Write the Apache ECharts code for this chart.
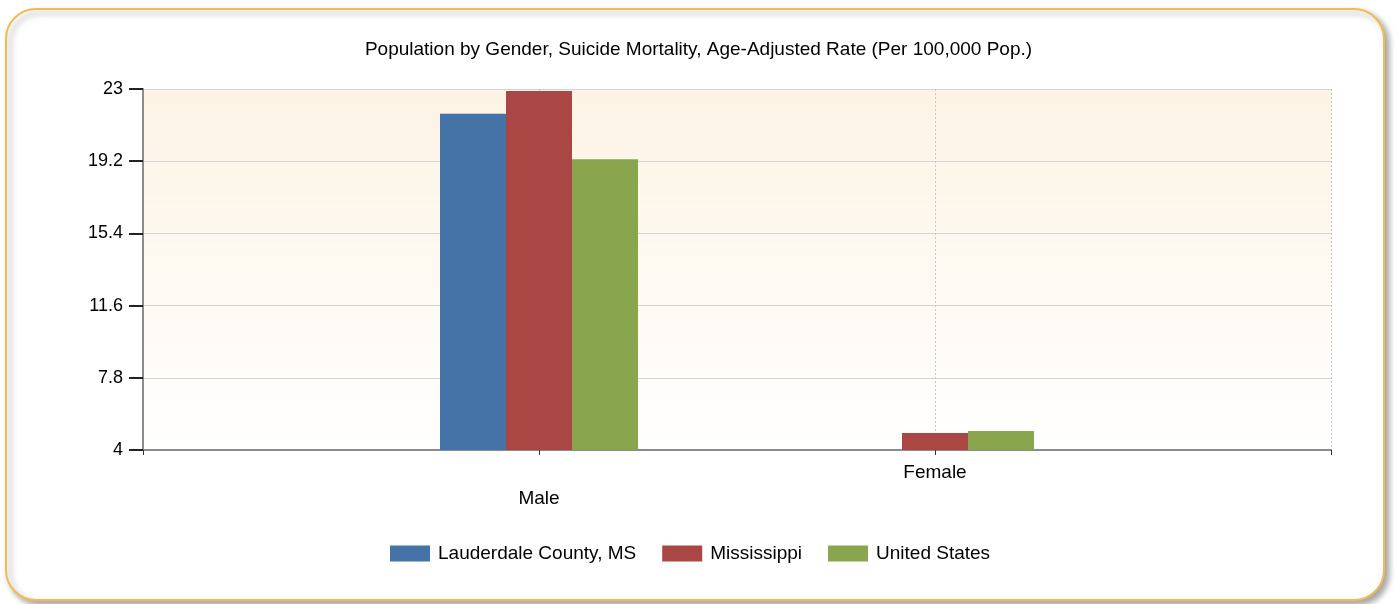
<!DOCTYPE html>
<html>
<head>
<meta charset="utf-8">
<title>Suicide Mortality by Gender</title>
<script src="https://cdn.jsdelivr.net/npm/echarts@6/dist/echarts.min.js"></script>
<style>
  html, body { margin: 0; padding: 0; background: #ffffff; }
  #chart { width: 1397px; height: 604px; }
</style>
</head>
<body>
<div id="chart"></div>
<script>
// Categories along the x axis (placed at positions 1, 2 on a 0..3 scale)
const categories = ['Male', 'Female'];

// Age-adjusted suicide mortality rate, per 100,000 population
const lauderdale = [21.7, null];
const mississippi = [22.9, 4.9];
const unitedStates = [19.3, 5.0];

const seriesNames = ['Lauderdale County, MS', 'Mississippi', 'United States'];
const seriesColors = ['#4572A7', '#AA4643', '#89A54E'];

// Value-axis ticks
const yMin = 4, yMax = 23, yStep = 3.8;

const fontFamily = '"Liberation Sans", Arial, sans-serif';

function toPoints(values) {
  return values.map((v, i) => [i + 1, v]);
}

const chart = echarts.init(document.getElementById('chart'), null, { renderer: 'canvas' });

const seriesData = [lauderdale, mississippi, unitedStates];

chart.setOption({
  animation: false,
  backgroundColor: 'transparent',
  graphic: {
    elements: [{
      type: 'rect',
      z: -10,
      silent: true,
      shape: { x: 6, y: 9, width: 1378, height: 591, r: 30 },
      style: {
        fill: '#ffffff',
        stroke: '#F3BB4E',
        lineWidth: 2,
        shadowBlur: 6,
        shadowOffsetX: 4,
        shadowOffsetY: 4,
        shadowColor: 'rgba(0,0,0,0.35)'
      }
    }]
  },
  title: {
    text: 'Population by Gender, Suicide Mortality, Age-Adjusted Rate (Per 100,000 Pop.)',
    left: 'center',
    top: 35,
    textStyle: { fontFamily, fontSize: 19, fontWeight: 'normal', color: '#000000' }
  },
  legend: {
    bottom: 36,
    left: 385,
    itemWidth: 40,
    itemHeight: 16,
    itemGap: 26,
    icon: 'rect',
    textStyle: { fontFamily, fontSize: 19, color: '#000000', padding: [0, 0, 0, 3] },
    data: seriesNames
  },
  grid: {
    left: 143,
    right: 66,
    top: 89,
    bottom: 154,
    show: true,
    borderWidth: 0,
    backgroundColor: {
      type: 'linear', x: 0, y: 0, x2: 0, y2: 1,
      colorStops: [
        { offset: 0, color: '#FCF3E4' },
        { offset: 1, color: '#FFFFFF' }
      ]
    }
  },
  xAxis: {
    type: 'value',
    min: 0,
    max: categories.length + 1,
    interval: 1,
    axisLine: { show: true, onZero: false, lineStyle: { color: '#8C8C8C', width: 2 } },
    axisTick: { show: true, length: 5, lineStyle: { color: '#333333' } },
    splitLine: { show: true, lineStyle: { color: '#C8C8C8', type: [2, 2], width: 1 } },
    axisLabel: {
      margin: 10,
      fontFamily,
      fontSize: 19,
      color: '#000000',
      lineHeight: 26,
      formatter: function (v) {
        const idx = Math.round(v) - 1;
        if (idx < 0 || idx >= categories.length) return '';
        // alternate rows so neighbouring labels stay apart
        return idx % 2 === 0 ? '\n' + categories[idx] : categories[idx];
      }
    }
  },
  yAxis: {
    type: 'value',
    min: yMin,
    max: yMax,
    interval: yStep,
    axisLine: { show: true, lineStyle: { color: '#8C8C8C', width: 2 } },
    axisTick: { show: true, length: 14, lineStyle: { color: '#222222', width: 2 } },
    splitLine: { show: true, lineStyle: { color: '#D4D4D4', width: 1 } },
    axisLabel: {
      margin: 20,
      fontFamily,
      fontSize: 18,
      color: '#000000',
      formatter: function (v) { return String(Math.round(v * 10) / 10); }
    }
  },
  series: seriesNames.map((name, i) => ({
    name,
    type: 'bar',
    barWidth: 66,
    barGap: '0%',
    itemStyle: { color: seriesColors[i] },
    data: toPoints(seriesData[i])
  }))
});
</script>
</body>
</html>
